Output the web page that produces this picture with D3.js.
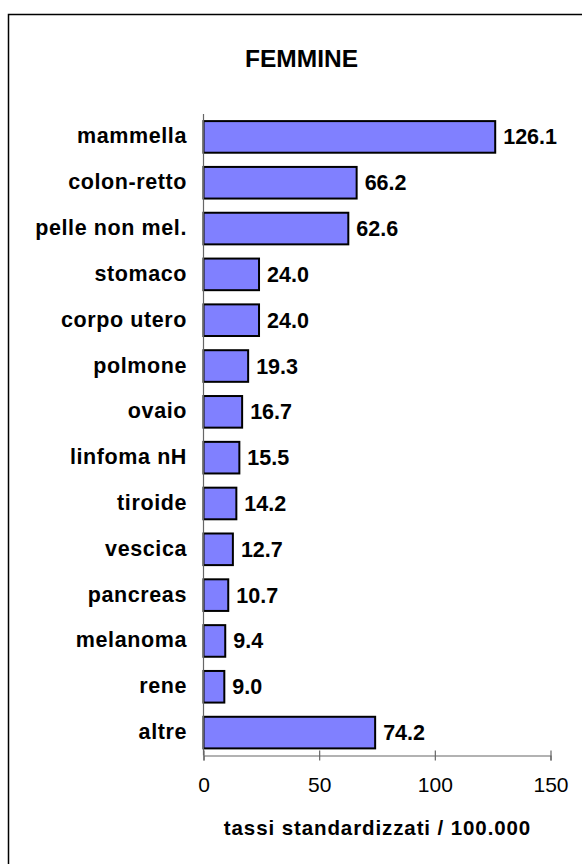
<!DOCTYPE html>
<meta charset="utf-8">
<style>
body { margin: 0; background: #fff; }
text { font-family: "Liberation Sans", Arial, sans-serif; fill: #000; }
.cat { font-size: 21.5px; font-weight: bold; letter-spacing: 0.6px; }
.val { font-size: 21.5px; font-weight: bold; }
.tick text { font-size: 21px; }
</style>
<body>
<script src="https://d3js.org/d3.v7.min.js"></script>
<script>

// data
var sites = ["mammella", "colon-retto", "pelle non mel.", "stomaco", "corpo utero",
             "polmone", "ovaio", "linfoma nH", "tiroide", "vescica", "pancreas",
             "melanoma", "rene", "altre"];
var rates = [126.1, 66.2, 62.6, 24.0, 24.0, 19.3, 16.7, 15.5, 14.2, 12.7, 10.7, 9.4, 9.0, 74.2];
var xTicks = [0, 50, 100, 150];

var W = 582, H = 864;
var plot = {left: 203.5, right: 550.5, top: 114, bottom: 755.5};

var svg = d3.select("body").append("svg")
    .attr("width", W)
    .attr("height", H);

// outer frame (runs off the right and bottom edges)
svg.append("rect")
    .attr("x", 8.5).attr("y", 14.5)
    .attr("width", 600).attr("height", 900)
    .attr("fill", "none")
    .attr("stroke", "#000")
    .attr("stroke-width", 1.5);

var x = d3.scaleLinear().domain([0, 150]).range([plot.left, plot.right]);
var y = d3.scaleBand().domain(sites).range([plot.top, plot.bottom]).paddingInner(0.31).paddingOuter(0.155);

// title
svg.append("text")
    .attr("x", 301.5).attr("y", 67)
    .attr("text-anchor", "middle")
    .style("font-size", "24.5px").style("font-weight", "bold")
    .text("FEMMINE");

// bars
svg.selectAll(".bar")
    .data(sites)
  .enter().append("rect")
    .attr("class", "bar")
    .attr("x", x(0))
    .attr("y", function(d) { return y(d); })
    .attr("width", function(d, i) { return x(rates[i]) - x(0); })
    .attr("height", y.bandwidth())
    .attr("fill", "#8080ff")
    .attr("stroke", "#000")
    .attr("stroke-width", 2);

// value labels
svg.selectAll(".val")
    .data(sites)
  .enter().append("text")
    .attr("class", "val")
    .attr("x", function(d, i) { return x(rates[i]) + 8; })
    .attr("y", function(d) { return y(d) + y.bandwidth() / 2 + 7.5; })
    .text(function(d, i) { return rates[i].toFixed(1); });

// category labels
svg.selectAll(".cat")
    .data(sites)
  .enter().append("text")
    .attr("class", "cat")
    .attr("x", 187)
    .attr("y", function(d) { return y(d) + y.bandwidth() / 2 + 6.5; })
    .attr("text-anchor", "end")
    .text(function(d) { return d; });

// vertical axis line
svg.append("line")
    .attr("x1", plot.left).attr("x2", plot.left)
    .attr("y1", plot.top).attr("y2", plot.bottom)
    .attr("stroke", "#666").attr("stroke-width", 1.2);

// x axis
var gX = svg.append("g")
    .attr("transform", "translate(0," + plot.bottom + ")")
    .call(d3.axisBottom(x).tickValues(xTicks).tickSize(5).tickPadding(17).tickFormat(d3.format("d")));
gX.select(".domain").attr("stroke", "#666").attr("stroke-width", 1.2);
gX.selectAll(".tick line").attr("stroke", "#666").attr("stroke-width", 1.2).attr("y1", -5).attr("y2", 5);
gX.selectAll(".tick text").attr("font-family", null).attr("font-size", null).attr("fill", "#000");

// x axis title
svg.append("text")
    .attr("x", 377.5).attr("y", 835)
    .attr("text-anchor", "middle")
    .style("font-size", "20.5px").style("font-weight", "bold").style("letter-spacing", "0.9px")
    .text("tassi standardizzati / 100.000");

</script>
</body>
